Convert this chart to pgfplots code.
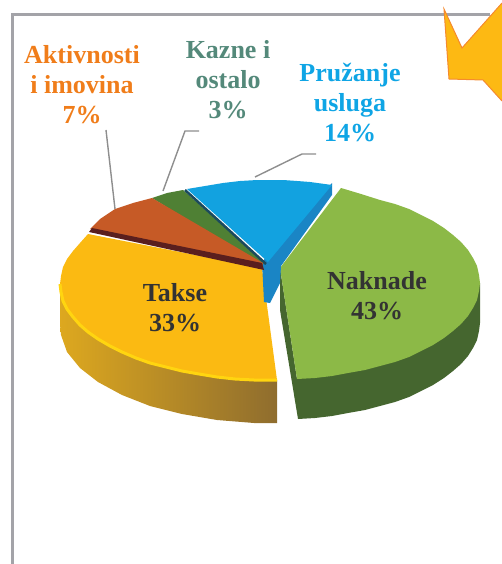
\documentclass[border=0pt]{standalone}
\usepackage{pgfplots}
\pgfplotsset{compat=1.18}
\usepackage{fontspec}
\setmainfont{Liberation Serif}
\definecolor{frame}{HTML}{A3A3A8}
\definecolor{lead}{HTML}{8E8E8E}
\definecolor{arrowf}{HTML}{FDB913}
\definecolor{arrowd}{HTML}{F58A2E}
\definecolor{yel}{HTML}{FBBA12}
\definecolor{yelrim}{HTML}{FFD510}
\definecolor{yelsa}{HTML}{DDA81F}
\definecolor{yelsb}{HTML}{8F6D2E}
\definecolor{grn}{HTML}{8CB947}
\definecolor{grnsa}{HTML}{45662F}
\definecolor{org}{HTML}{C65A26}
\definecolor{dkred}{HTML}{5A1F1E}
\definecolor{dgrn}{HTML}{4F8034}
\definecolor{blu}{HTML}{12A2E0}
\definecolor{blud}{HTML}{1A85C5}
\definecolor{nav}{HTML}{1B4A5E}
\definecolor{txt}{HTML}{333333}
\newcommand{\lab}[1]{\fontsize{26}{30}\selectfont\bfseries #1}
\begin{document}
\begin{tikzpicture}
\begin{axis}[scale only axis,width=502pt,height=564pt,xmin=0,xmax=502,ymin=0,ymax=564,y dir=reverse,hide axis,clip=true]
% page corners
\addplot[draw=none,no marks] coordinates {(0,0)(502,564)};
% frame
\addplot[frame,line width=3pt,no marks] coordinates {(12,564)(12,15)(490,15)};
% arrow
\addplot[fill=arrowf,draw=none] coordinates {(444,9)(462,48)(502,3)(502,101)(483,80)(449,79)} -- cycle;
\addplot[arrowd,line width=1pt,no marks] coordinates {(502,3)(462,48)(444,9)(449,79)(483,80)(502,101)};
% green side
\addplot[draw=none,fill=grnsa] coordinates {(280,268)(280,310)(298,419)(315,418)(332,416)(348,413)(365,410)(380,406)(395,402)(409,397)(421,391)(433,385)(444,378)(453,371)(461,364)(468,356)(473,348)(477,340)(479,331)(480,323)(480,283)(297,379)} -- cycle;
% green top
\addplot[draw=none,fill=grn] coordinates {(280,268)(341,188)(361,194)(380,200)(395,204)(409,209)(421,215)(433,221)(444,228)(453,235)(461,242)(468,250)(473,258)(477,266)(479,275)(480,283)(479,291)(477,300)(473,308)(468,316)(461,324)(453,331)(444,338)(433,345)(421,351)(409,357)(395,362)(380,366)(365,370)(348,373)(332,376)(315,378)(297,379)} -- cycle;
% yellow side
\addplot[draw=none,left color=yelsa,right color=yelsb] coordinates {(60,284)(67,309)(80,325)(98,339)(122,352)(150,363)(182,371)(217,377)(254,380)(277,380)(277,423)(254,423)(217,420)(182,414)(150,406)(122,395)(98,382)(80,368)(67,352)(61,335)(60,325)} -- cycle;
% yellow top
\addplot[draw=none,fill=yel] coordinates {(262,268)(88,234)(80,243)(73,251)(67,259)(63,267)(61,276)(60,284)(61,292)(63,301)(67,309)(73,317)(80,325)(88,332)(98,339)(110,346)(122,352)(136,358)(150,363)(166,367)(182,371)(199,374)(217,377)(235,379)(254,380)(277,380)} -- cycle;
\addplot[yelrim,line width=3pt,no marks] coordinates {(60,284)(61,292)(63,301)(67,309)(73,317)(80,325)(88,332)(98,339)(110,346)(122,352)(136,358)(150,363)(166,367)(182,371)(199,374)(217,377)(235,379)(254,380)(277,380)};
% blue side
\addplot[draw=none,fill=blud] coordinates {(332,183)(332,195)(281,266)(280,283)(270,303)(264,302)(262,262)} -- cycle;
% dark green slice
\addplot[draw=none,fill=dgrn] coordinates {(152,198)(167,193)(183,190)(264,262)(262,266)} -- cycle;
% navy edge
\addplot[nav,line width=2.5pt,no marks] coordinates {(185,190)(266,264)};
% blue top
\addplot[draw=none,fill=blu] coordinates {(187,189)(205,186)(223,183)(240,181)(257,180)(270,180)(283,180)(297,181)(310,182)(332,185)(268,262)} -- cycle;
% orange slice
\addplot[draw=none,fill=org] coordinates {(90,229)(100,219)(115,209)(133,203)(152,198)(263,263)(262,266)} -- cycle;
% dark strip
\addplot[draw=none,fill=dkred] coordinates {(89,232)(92,228)(262,263)(264,270)} -- cycle;
% leaders
\addplot[lead,line width=1.4pt,no marks] coordinates {(106,130)(115,209)};
\addplot[lead,line width=1.4pt,no marks] coordinates {(199,131)(185,131)(163,191)};
\addplot[lead,line width=1.4pt,no marks] coordinates {(316,154)(302,154)(255,177)};
% labels
\node[align=center,text=txt,font=\lab{}] at (axis cs:377,296) {Naknade\\43\%};
\node[align=center,text=txt,font=\lab{}] at (axis cs:175,308) {Takse\\33\%};
\node[align=center,text={rgb,255:red,240;green,125;blue,26},font=\lab{}] at (axis cs:82,85) {Aktivnosti\\i imovina\\7\%};
\node[align=center,text={rgb,255:red,84;green,137;blue,122},font=\lab{}] at (axis cs:228,80) {Kazne i\\ostalo\\3\%};
\node[align=center,text={rgb,255:red,15;green,165;blue,229},font=\lab{}] at (axis cs:350,103) {Pružanje\\usluga\\14\%};
\end{axis}
\end{tikzpicture}
\end{document}
